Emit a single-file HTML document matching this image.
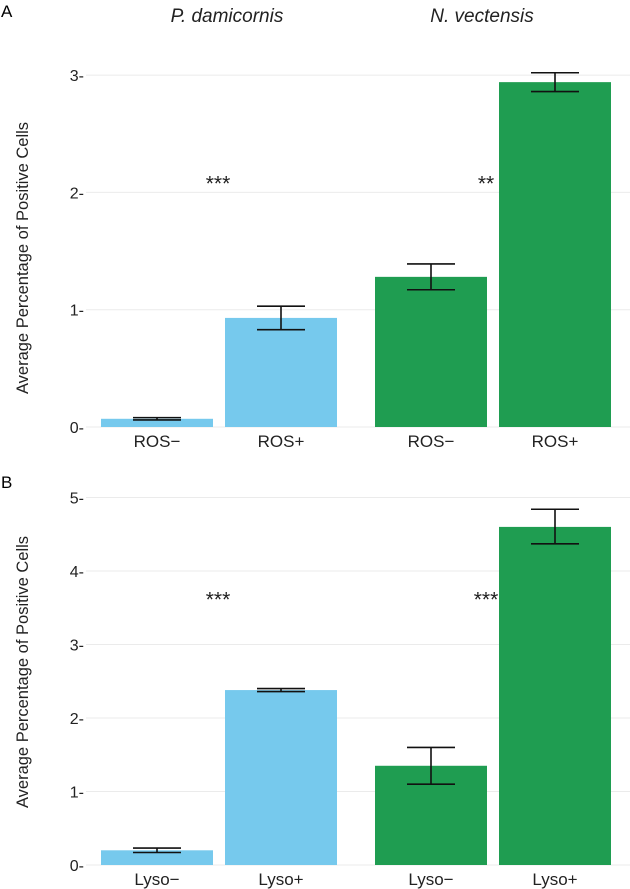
<!DOCTYPE html>
<html><head><meta charset="utf-8"><style>
body{margin:0;background:#fff}
svg{display:block;font-family:"Liberation Sans",sans-serif}
</style></head><body>
<svg id="chart" width="630" height="889">
<text x="1" y="17" font-size="17">A</text>
<text x="1" y="488" font-size="17">B</text>
<text x="227" y="22" font-size="19" font-style="italic" text-anchor="middle" fill="#222">P. damicornis</text>
<text x="482" y="22" font-size="19" font-style="italic" text-anchor="middle" fill="#222">N. vectensis</text>
<g id="panels"></g>
</svg>
<script>
const catsA=["ROS−","ROS+","ROS−","ROS+"];
const meanA=[0.07,0.93,1.28,2.94];
const loA=[0.06,0.83,1.17,2.86];
const hiA=[0.08,1.03,1.39,3.02];
const ticksA=[0,1,2,3];
const starsA=["***","**"];
const catsB=["Lyso−","Lyso+","Lyso−","Lyso+"];
const meanB=[0.20,2.38,1.35,4.60];
const loB=[0.17,2.36,1.10,4.37];
const hiB=[0.23,2.40,1.60,4.84];
const ticksB=[0,1,2,3,4,5];
const starsB=["***","***"];
const starYA=2.1, starYB=3.65;

const NS="http://www.w3.org/2000/svg";
const root=document.getElementById('panels');
function mk(tag,attrs,parent){const e=document.createElementNS(NS,tag);for(const k in attrs)e.setAttribute(k,attrs[k]);parent.appendChild(e);return e;}
const barX=[101,225,375,499], barW=112;
const colors=["#76c9ed","#76c9ed","#1f9d51","#1f9d51"];
function panel(id,y0,pxPerUnit,cats,mean,lo,hi,ticks,stars,starY,titleY){
  const g=mk('g',{},root);
  
  
  const Y=v=>y0-v*pxPerUnit;
  ticks.forEach(t=>{
    const l=mk('line',{x1:86,x2:630,y1:Y(t),y2:Y(t),stroke:'#ebebeb','stroke-width':1},g);
    
    
    const tx=mk('text',{x:84,y:Y(t)+6,'font-size':16,'text-anchor':'end',fill:'#222'},g);
    tx.textContent=t+"-";
    
    
  });
  const at=mk('text',{x:0,y:0,'font-size':16.5,'text-anchor':'middle',fill:'#222',transform:`translate(28,${titleY}) rotate(-90)`},g);
  at.textContent="Average Percentage of Positive Cells";
  
  
  [218,486].forEach((x,i)=>{
    const s=mk('text',{x:x,y:Y(starY)+10,'font-size':21,'text-anchor':'middle',fill:'#222'},g);
    s.textContent=stars[i];
    
    
  });
  mean.forEach((m,i)=>{
    const r=mk('rect',{x:barX[i],y:Y(m),width:barW,height:m*pxPerUnit,fill:colors[i]},g);
    
    
    const cx=barX[i]+barW/2;
    const e=mk('path',{d:`M${cx-24},${Y(hi[i])}H${cx+24}M${cx},${Y(hi[i])}V${Y(lo[i])}M${cx-24},${Y(lo[i])}H${cx+24}`,stroke:'#111','stroke-width':1.6,fill:'none'},g);
    
    
    const xl=mk('text',{x:cx,y:y0+20,'font-size':17,'text-anchor':'middle',fill:'#222'},g);
    xl.textContent=cats[i];
    
    
  });
}
panel('panel-a-chart',427,117.3,catsA,meanA,loA,hiA,ticksA,starsA,starYA,258);
panel('panel-b-chart',865,73.5,catsB,meanB,loB,hiB,ticksB,starsB,starYB,672);
</script>
</body></html>
